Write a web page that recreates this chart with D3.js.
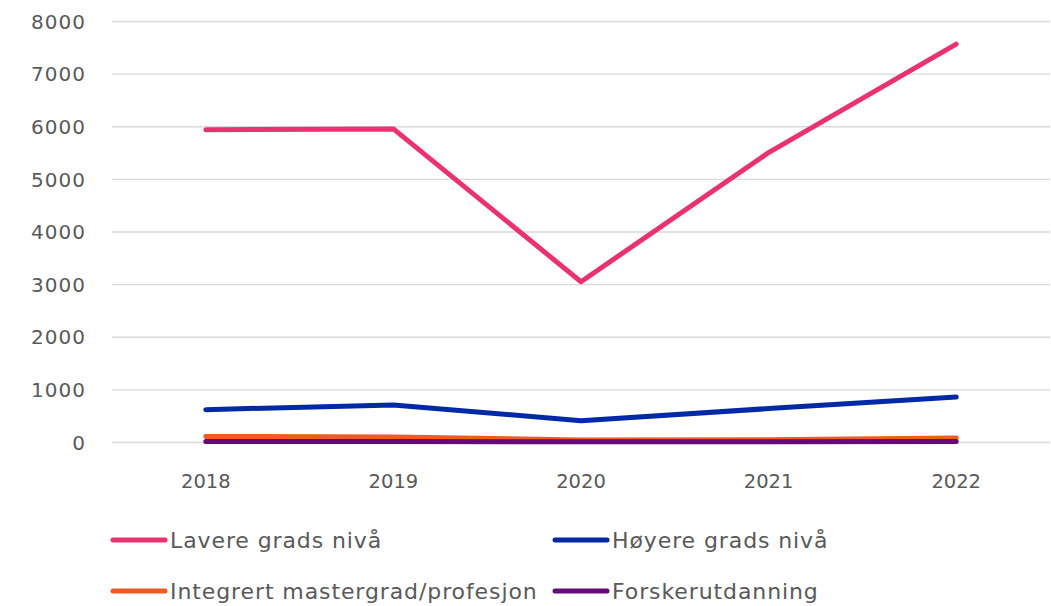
<!DOCTYPE html>
<html><head><meta charset="utf-8">
<script src="https://cdn.jsdelivr.net/npm/d3@7"></script>
<style>body{margin:0;background:#fff}svg{display:block}text{font-family:"DejaVu Sans","Noto Sans",sans-serif}</style>
</head><body><svg id="c" width="1051" height="606"></svg>
<script>
const years = ["2018","2019","2020","2021","2022"];
const yTicks = [0,1000,2000,3000,4000,5000,6000,7000,8000];
const seriesNames = ["Lavere grads nivå","Høyere grads nivå","Integrert mastergrad/profesjon","Forskerutdanning"];
const seriesColors = ["#EA3271","#0029A5","#EF5B20","#650A78"];
const lavere = [5935, 5950, 3045, 5500, 7560];
const hoyere = [615, 705, 405, 635, 855];
const integrert = [105, 95, 40, 45, 75];
const forsker = [8, 8, 6, 7, 8];
const allSeries = [lavere, hoyere, integrert, forsker];

const svg = d3.select("#c");
const x = d3.scaleBand().domain(years).range([112, 1050]);
const y = d3.scaleLinear().domain([0, 8000]).range([442, 21]);

const yAxis = svg.append("g").attr("transform","translate(112,0)")
  .call(d3.axisLeft(y).tickValues(yTicks).tickSize(-938).tickPadding(26).tickFormat(d3.format("d")));
yAxis.select(".domain").remove();
yAxis.selectAll("line").attr("stroke","#d9d9d9").attr("stroke-width",1.3);
yAxis.selectAll("text").attr("fill","#595959").style("font-size","20px")
  .style("letter-spacing","1px").attr("dy","0.36em");

const xAxis = svg.append("g").attr("transform","translate(0,442)")
  .call(d3.axisBottom(x).tickSize(0).tickPadding(32));
xAxis.select(".domain").remove();
xAxis.selectAll("text").attr("fill","#595959").style("font-size","19.5px");

const line = d3.line().x((d,i)=>x(years[i]) + x.bandwidth()/2).y(d=>y(d));
allSeries.forEach((s,k)=>{
  svg.append("path").datum(s).attr("d", line).attr("fill","none")
    .attr("stroke", seriesColors[k]).attr("stroke-width",5)
    .attr("stroke-linejoin","round").attr("stroke-linecap","round");
});

const legPos = [[113,540],[555,540],[113,591],[555,591]];
seriesNames.forEach((n,k)=>{
  const [lx,ly] = legPos[k];
  svg.append("line").attr("x1",lx).attr("x2",lx+52).attr("y1",ly).attr("y2",ly)
    .attr("stroke",seriesColors[k]).attr("stroke-width",5).attr("stroke-linecap","round");
  svg.append("text").attr("x",lx+57).attr("y",ly).attr("dy","0.36em")
    .attr("fill","#595959").style("font-size","22px").style("letter-spacing","0.9px").text(n);
});
</script></body></html>
